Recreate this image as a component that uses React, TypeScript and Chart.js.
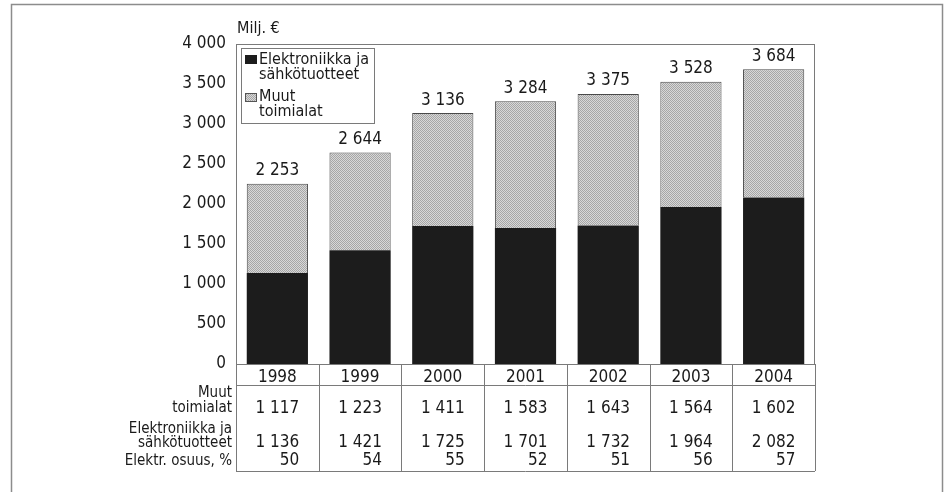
import React, { useEffect, useRef } from "react";
import { Chart, registerables } from "chart.js";

Chart.register(...registerables);

const years = ["1998", "1999", "2000", "2001", "2002", "2003", "2004"];
const elektroniikka = [1136, 1421, 1725, 1701, 1732, 1964, 2082];
const muut = [1117, 1223, 1411, 1583, 1643, 1564, 1602];
const osuus = [50, 54, 55, 52, 51, 56, 57];
const yMin = 0;
const yMax = 4000;
const yStep = 500;
const unitLabel = "Milj. €";
const legendElek = ["Elektroniikka ja", "sähkötuotteet"];
const legendMuut = ["Muut", "toimialat"];
const rowLabelMuut = ["Muut", "toimialat"];
const rowLabelElek = ["Elektroniikka ja", "sähkötuotteet"];
const rowLabelOsuus = ["Elektr. osuus, %"];

const FONT = '"Liberation Sans Narrow", "Arial Narrow", "DejaVu Sans Condensed", sans-serif';
const TEXT = "#1a1a1a";
const LINE = "#7a7a7a";
const BLACK = "#1c1c1c";

const fmt = (v: number) => {
  const s = String(Math.round(v));
  return s.length > 3 ? s.slice(0, -3) + " " + s.slice(-3) : s;
};

function makePattern(): CanvasPattern | string {
  const c = document.createElement("canvas");
  c.width = 2;
  c.height = 2;
  const g = c.getContext("2d");
  if (!g) return "#bdbdbd";
  g.fillStyle = "#d8d8d8";
  g.fillRect(0, 0, 2, 2);
  g.fillStyle = "#a6a6a6";
  g.fillRect(0, 0, 1, 1);
  g.fillRect(1, 1, 1, 1);
  const p = g.createPattern(c, "repeat");
  return p || "#bdbdbd";
}

export default function App() {
  const ref = useRef<HTMLCanvasElement | null>(null);

  useEffect(() => {
    if (!ref.current) return;
    const pattern = makePattern();

    const tablePlugin = {
      id: "tablePlugin",
      afterDraw(chart: any) {
        const ctx = chart.ctx as CanvasRenderingContext2D;
        const area = chart.chartArea;
        const xs = chart.scales.x;
        const ys = chart.scales.y;
        const n = years.length;
        const cw = (area.right - area.left) / n;
        ctx.save();

        // outer frame
        ctx.strokeStyle = "#8c8c8c";
        ctx.lineWidth = 1.5;
        ctx.strokeRect(11.5, 4.5, 931, 600);

        // plot frame
        ctx.strokeStyle = LINE;
        ctx.lineWidth = 1;
        ctx.strokeRect(area.left + 0.5, area.top + 0.5, area.right - area.left - 1, area.bottom - area.top);

        // table lines
        const tableBottom = 471;
        const yearRowBottom = 385;
        ctx.beginPath();
        for (let i = 0; i <= n; i++) {
          const x = Math.round(area.left + i * cw) + 0.5;
          ctx.moveTo(x, area.bottom);
          ctx.lineTo(x, tableBottom);
        }
        ctx.moveTo(area.left, yearRowBottom + 0.5);
        ctx.lineTo(area.right, yearRowBottom + 0.5);
        ctx.moveTo(area.left, tableBottom + 0.5);
        ctx.lineTo(area.right, tableBottom + 0.5);
        ctx.stroke();

        // table values
        ctx.fillStyle = TEXT;
        ctx.textBaseline = "middle";
        ctx.font = "17px " + FONT;
        for (let i = 0; i < n; i++) {
          const cx = xs.getPixelForValue(i);
          ctx.textAlign = "center";
          ctx.fillText(fmt(muut[i]), cx, 409);
          const et = fmt(elektroniikka[i]);
          ctx.fillText(et, cx, 443);
          const w = ctx.measureText(et).width;
          ctx.textAlign = "right";
          ctx.fillText(String(osuus[i]), cx + w / 2, 461);
        }

        // row labels
        ctx.font = "15px " + FONT;
        ctx.textAlign = "right";
        const lx = area.left - 4;
        ctx.fillText(rowLabelMuut[0], lx, 393);
        ctx.fillText(rowLabelMuut[1], lx, 408);
        ctx.fillText(rowLabelElek[0], lx, 429);
        ctx.fillText(rowLabelElek[1], lx, 443);
        ctx.fillText(rowLabelOsuus[0], lx, 461);

        // totals above bars
        ctx.font = "17px " + FONT;
        ctx.textAlign = "center";
        for (let i = 0; i < n; i++) {
          const total = elektroniikka[i] + muut[i];
          ctx.fillText(fmt(total), xs.getPixelForValue(i), ys.getPixelForValue(total) - 13);
        }

        // unit label
        ctx.textAlign = "left";
        ctx.font = "16px " + FONT;
        ctx.fillText(unitLabel, area.left + 1, 29);

        // legend
        ctx.font = "16px " + FONT;
        const tw = Math.max(
          ctx.measureText(legendElek[0]).width,
          ctx.measureText(legendElek[1]).width,
          ctx.measureText(legendMuut[0]).width,
          ctx.measureText(legendMuut[1]).width
        );
        const bx = area.left + 5;
        const by = area.top + 4;
        const bw = Math.ceil(tw + 22);
        ctx.fillStyle = "#ffffff";
        ctx.fillRect(bx, by, bw, 75);
        ctx.strokeStyle = LINE;
        ctx.strokeRect(bx + 0.5, by + 0.5, bw, 75);
        ctx.fillStyle = BLACK;
        ctx.fillRect(bx + 4, by + 7, 12, 9);
        ctx.fillStyle = pattern as any;
        ctx.fillRect(bx + 4, by + 45, 12, 9);
        ctx.strokeStyle = "#555";
        ctx.strokeRect(bx + 4.5, by + 45.5, 11, 8);
        ctx.fillStyle = TEXT;
        ctx.textAlign = "left";
        ctx.fillText(legendElek[0], bx + 18, by + 12);
        ctx.fillText(legendElek[1], bx + 18, by + 27);
        ctx.fillText(legendMuut[0], bx + 18, by + 49);
        ctx.fillText(legendMuut[1], bx + 18, by + 64);

        ctx.restore();
      },
    };

    const chart = new Chart(ref.current, {
      type: "bar",
      data: {
        labels: years,
        datasets: [
          {
            label: legendElek.join(" "),
            data: elektroniikka,
            backgroundColor: BLACK,
            borderWidth: 0,
            barPercentage: 0.74,
            categoryPercentage: 1,
          },
          {
            label: legendMuut.join(" "),
            data: muut,
            backgroundColor: pattern as any,
            borderColor: "#4a4a4a",
            borderWidth: 1,
            borderSkipped: "bottom",
            barPercentage: 0.74,
            categoryPercentage: 1,
          },
        ],
      },
      options: {
        responsive: false,
        animation: false,
        devicePixelRatio: 1,
        layout: { padding: { left: 176, top: 44, right: 132, bottom: 0 } },
        plugins: { legend: { display: false }, tooltip: { enabled: false }, title: { display: false } },
        scales: {
          x: {
            stacked: true,
            grid: { display: false, drawTicks: false },
            border: { display: false },
            ticks: { color: TEXT, font: { family: FONT, size: 17 }, padding: 3, maxRotation: 0 },
            afterFit: (axis: any) => {
              axis.height = 128;
            },
          },
          y: {
            stacked: true,
            min: yMin,
            max: yMax,
            grid: { display: false, drawTicks: false },
            border: { display: false },
            ticks: {
              stepSize: yStep,
              color: TEXT,
              font: { family: FONT, size: 17 },
              padding: 10,
              callback: (v: any) => fmt(Number(v)),
            },
            afterFit: (axis: any) => {
              axis.width = 60;
            },
          },
        },
      },
      plugins: [tablePlugin],
    });
    return () => chart.destroy();
  }, []);

  return (
    <div style={{ position: "absolute", left: 0, top: 0, width: 947, height: 492, background: "#fff" }}>
      <canvas ref={ref} width={947} height={492} style={{ display: "block" }} />
    </div>
  );
}
